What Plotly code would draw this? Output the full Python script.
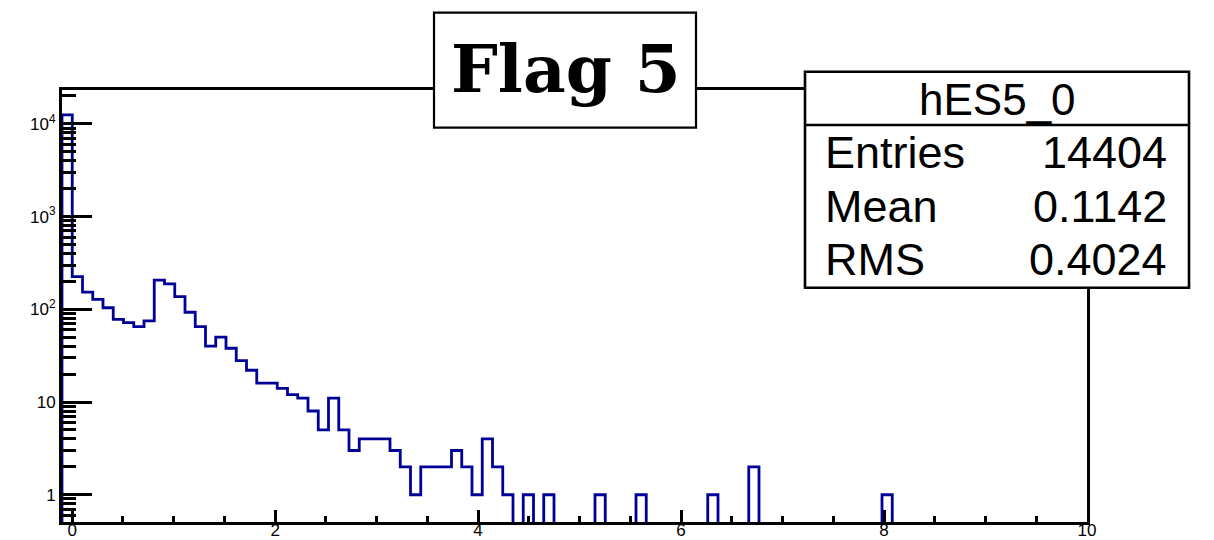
import numpy as np
import plotly.graph_objects as go

# ---------------- data ----------------
x_min, x_max, n_bins = -0.1, 10.0, 100
counts = [
    12490, 225, 153, 128, 104, 78, 72, 65, 75, 206,
    188, 137, 93, 65, 40, 50, 38, 28, 22, 16,
    16, 14, 12, 11, 8, 5, 11, 5, 3, 4,
    4, 4, 3, 2, 1, 2, 2, 2, 3, 2,
    1, 4, 2, 1, 0, 1, 0, 1, 0, 0,
    0, 0, 1, 0, 0, 0, 1, 0, 0, 0,
    0, 0, 0, 1, 0, 0, 0, 2, 0, 0,
    0, 0, 0, 0, 0, 0, 0, 0, 0, 0,
    1, 0, 0, 0, 0, 0, 0, 0, 0, 0,
    0, 0, 0, 0, 0, 0, 0, 0, 0, 0,
]
x_tick_vals = [0, 2, 4, 6, 8, 10]
x_tick_text = ["0", "2", "4", "6", "8", "10"]
y_tick_vals = [1, 10, 100, 1000, 10000]
y_tick_text = ["1", "10", "10<sup>2</sup>", "10<sup>3</sup>", "10<sup>4</sup>"]
y_minor_vals = ([0.6, 0.7, 0.8, 0.9]
                + [m * 10 ** d for d in range(0, 4) for m in range(2, 10)]
                + [20000])
hist_name = "hES5_0"
title_text = "Flag 5"
stat_labels = ["Entries", "Mean", "RMS"]
stat_values = ["14404", "0.1142", "0.4024"]

# ---------------- layout geometry (pixels) ----------------
W, H = 1214, 540
L, R, T, B = 62, 1087, 90, 522
y_lo, y_hi = 0.508, 23200


def px(x):
    return (x - L) / (R - L)


def py(y):
    return (B - y) / (B - T)


edges = np.linspace(x_min, x_max, n_bins + 1)
floor = 1e-3  # drawn below the visible range (empty bins)
ys = [floor] + [c if c > 0 else floor for c in counts] + [floor]
xs = [edges[0]] + list(edges[:-1]) + [edges[-1]]

fig = go.Figure()
fig.add_trace(go.Scatter(
    x=xs, y=ys, mode="lines", line_shape="hv",
    line=dict(color="#000099", width=2.8), hoverinfo="skip", showlegend=False,
))

fig.update_layout(
    template="none",
    width=W, height=H,
    margin=dict(l=L, r=W - R, t=T, b=H - B, pad=0),
    paper_bgcolor="white", plot_bgcolor="white",
    showlegend=False,
    font=dict(family="Liberation Sans, Arial, sans-serif", color="black"),
)

fig.update_xaxes(
    range=[x_min, x_max], showgrid=False, zeroline=False,
    showline=True, linecolor="black", linewidth=3, mirror=True,
    ticks="inside", ticklen=12, tickwidth=2.5, tickcolor="black",
    tickmode="array", tickvals=x_tick_vals, ticktext=x_tick_text,
    tickfont=dict(size=17, family="Liberation Sans, Arial, sans-serif"),
    ticklabelstandoff=-9,
    minor=dict(ticks="inside", ticklen=6, tickwidth=2.5, tickcolor="black",
               dtick=0.5, tick0=0, showgrid=False),
    automargin=False,
)
fig.update_yaxes(
    type="log", range=[np.log10(y_lo), np.log10(y_hi)],
    showgrid=False, zeroline=False,
    showline=True, linecolor="black", linewidth=3, mirror=True,
    ticks="inside", ticklen=30, tickwidth=2.5, tickcolor="black",
    tickmode="array", tickvals=y_tick_vals, ticktext=y_tick_text,
    tickfont=dict(size=17, family="Liberation Sans, Arial, sans-serif"),
    minor=dict(ticks="inside", ticklen=14, tickwidth=2.5, tickcolor="black",
               tickmode="array", tickvals=y_minor_vals, showgrid=False),
    automargin=False,
)

shapes = []
annotations = []

# title box
shapes.append(dict(type="rect", xref="paper", yref="paper",
                   x0=px(434), x1=px(696), y0=py(127.7), y1=py(12.7),
                   line=dict(color="black", width=2.2), fillcolor="white",
                   layer="above"))
annotations.append(dict(xref="paper", yref="paper", x=px(566), y=py(69),
                        xanchor="center", yanchor="middle", showarrow=False,
                        text="<b>" + title_text + "</b>",
                        font=dict(family="DejaVu Serif", size=66, color="black")))

# stats box
shapes.append(dict(type="rect", xref="paper", yref="paper",
                   x0=px(805), x1=px(1189), y0=py(287.7), y1=py(71.7),
                   line=dict(color="black", width=2.6), fillcolor="white",
                   layer="above"))
shapes.append(dict(type="line", xref="paper", yref="paper",
                   x0=px(805), x1=px(1189), y0=py(125), y1=py(125),
                   line=dict(color="black", width=2.4), layer="above"))
annotations.append(dict(xref="paper", yref="paper", x=px(997), y=py(99),
                        xanchor="center", yanchor="middle", showarrow=False,
                        text=hist_name,
                        font=dict(family="Liberation Sans, Arial", size=44, color="black")))
row_mid = [152, 206, 259]
for lab, val, ym in zip(stat_labels, stat_values, row_mid):
    annotations.append(dict(xref="paper", yref="paper", x=px(823), y=py(ym),
                            xanchor="left", yanchor="middle", showarrow=False,
                            text=lab,
                            font=dict(family="Liberation Sans, Arial", size=45, color="black")))
    annotations.append(dict(xref="paper", yref="paper", x=px(1169), y=py(ym),
                            xanchor="right", yanchor="middle", showarrow=False,
                            text=val,
                            font=dict(family="Liberation Sans, Arial", size=45, color="black")))

fig.update_layout(shapes=shapes, annotations=annotations)
fig.write_html("out.html",
               config={"displayModeBar": False},
               post_script="document.body.style.margin='0';document.body.style.overflow='hidden';")
